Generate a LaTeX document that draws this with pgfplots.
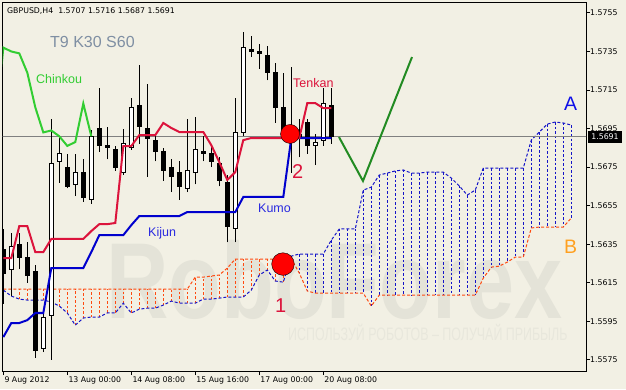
\documentclass[border=0pt]{standalone}
\usepackage{graphicx}
\usepackage{fontspec}
\setmainfont{DejaVu Sans}
\newfontfamily\arialfont{Liberation Sans}
\usepackage{pgfplots}
\usepackage{pgfplotstable}
\pgfplotsset{compat=1.18}

\definecolor{bg}{HTML}{F2F0E4}
\definecolor{tenkan}{HTML}{DC143C}
\definecolor{kijun}{HTML}{0000CD}
\definecolor{chinkou}{HTML}{32CD32}
\definecolor{spana}{HTML}{1414C8}
\definecolor{spanb}{HTML}{FF4A10}
\definecolor{vgreen}{HTML}{228B22}
\definecolor{wm}{HTML}{E4E3D8}
\definecolor{wm2}{HTML}{E8E7DC}
\definecolor{tnine}{HTML}{7F8FA3}
\definecolor{labblue}{HTML}{2A2AE0}
\definecolor{labA}{HTML}{1010E8}
\definecolor{labB}{HTML}{FFA020}

\pgfplotstableread{
i o h l c
0 1.5632 1.5643 1.5604 1.5620
1 1.5622 1.5641 1.5608 1.5634
2 1.5635 1.5641 1.5622 1.5628
3 1.5628 1.5636 1.5615 1.5619
4 1.5621 1.5624 1.5576 1.5580
5 1.5581 1.5602 1.5579 1.5597
6 1.5598 1.5700 1.5575 1.5677
7 1.5678 1.5691 1.5667 1.5682
8 1.5675 1.5682 1.5664 1.5665
9 1.5666 1.5682 1.5660 1.5672
10 1.5672 1.5679 1.5657 1.5659
11 1.5658 1.5694 1.5656 1.5691
12 1.5695 1.5716 1.5683 1.5686
13 1.5686 1.5696 1.5679 1.5685
14 1.5684 1.5686 1.5673 1.5675
15 1.5672 1.5695 1.5671 1.5687
16 1.5685 1.5711 1.5684 1.5706
17 1.5707 1.5728 1.5687 1.5696
18 1.5695 1.5718 1.5670 1.5690
19 1.5689 1.5692 1.5678 1.5683
20 1.5683 1.5685 1.5668 1.5673
21 1.5675 1.5679 1.5662 1.5670
22 1.5672 1.5678 1.5658 1.5665
23 1.5664 1.5700 1.5662 1.5673
24 1.5672 1.5701 1.5666 1.5684
25 1.5683 1.5691 1.5678 1.5682
26 1.5682 1.5686 1.5675 1.5678
27 1.5677 1.5680 1.5665 1.5668
28 1.5667 1.5671 1.5636 1.5644
29 1.5643 1.5711 1.5636 1.5693
30 1.5693 1.5745 1.5691 1.5737
31 1.5736 1.5743 1.5732 1.5735
32 1.5735 1.5739 1.5726 1.5734
33 1.5733 1.5738 1.5720 1.5724
34 1.5724 1.5729 1.5698 1.5706
35 1.5706 1.5724 1.5689 1.5693
36 1.5692 1.5727 1.5672 1.5694
37 1.5692 1.5700 1.5680 1.5691
38 1.5698 1.5700 1.5682 1.5686
39 1.5686 1.5692 1.5676 1.5688
40 1.5689 1.5716 1.5686 1.5708
41 1.5707 1.5716 1.5687 1.5691
}\candles

\pgfplotstableread{
i t k
0 1.56278 1.55868
1 1.56278 1.55941
2 1.56444 1.55941
3 1.56444 1.55956
4 1.56309 1.55993
5 1.56309 1.55993
6 1.56377 1.56226
7 1.56377 1.56226
8 1.56377 1.56226
9 1.56377 1.56226
10 1.56377 1.56226
11 1.56418 1.56309
12 1.56454 1.56397
13 1.56454 1.56397
14 1.56460 1.56397
15 1.56859 1.56397
16 1.56859 1.56449
17 1.56916 1.56496
18 1.56916 1.56496
19 1.56916 1.56496
20 1.56979 1.56496
21 1.56953 1.56496
22 1.56932 1.56496
23 1.56932 1.56517
24 1.56932 1.56517
25 1.56932 1.56517
26 1.56864 1.56517
27 1.56776 1.56517
28 1.56683 1.56517
29 1.56724 1.56517
30 1.56890 1.56595
31 1.56901 1.56595
32 1.56901 1.56595
33 1.56901 1.56595
34 1.56901 1.56595
35 1.56901 1.56595
36 1.56901 1.56901
37 1.56901 1.56901
38 1.57082 1.56901
39 1.57082 1.56901
40 1.57056 1.56901
41 1.57056 1.56901
}\tk

\pgfplotstableread{
i a b
0 1.56112 1.56117
1 1.56081 1.56117
2 1.56065 1.56117
3 1.56060 1.56117
4 1.56060 1.56117
5 1.56060 1.56117
6 1.56050 1.56117
7 1.56029 1.56117
8 1.55993 1.56117
9 1.55930 1.56117
10 1.55967 1.56117
11 1.55972 1.56117
12 1.55972 1.56117
13 1.55993 1.56117
14 1.55993 1.56117
15 1.56044 1.56117
16 1.55993 1.56117
17 1.56013 1.56117
18 1.56018 1.56117
19 1.56018 1.56117
20 1.56034 1.56117
21 1.56055 1.56117
22 1.56044 1.56117
23 1.56044 1.56117
24 1.56044 1.56179
25 1.56065 1.56179
26 1.56065 1.56185
27 1.56070 1.56190
28 1.56076 1.56226
29 1.56076 1.56273
30 1.56076 1.56273
31 1.56112 1.56273
32 1.56190 1.56273
33 1.56216 1.56273
34 1.56159 1.56273
35 1.56153 1.56273
36 1.56288 1.56273
37 1.56299 1.56200
38 1.56299 1.56107
39 1.56299 1.56096
40 1.56299 1.56096
41 1.56371 1.56096
42 1.56429 1.56096
43 1.56429 1.56096
44 1.56429 1.56096
45 1.56631 1.56096
46 1.56646 1.56029
47 1.56709 1.56086
48 1.56719 1.56086
49 1.56730 1.56086
50 1.56735 1.56086
51 1.56719 1.56086
52 1.56719 1.56086
53 1.56724 1.56086
54 1.56724 1.56086
55 1.56724 1.56086
56 1.56693 1.56086
57 1.56652 1.56086
58 1.56605 1.56086
59 1.56631 1.56086
60 1.56745 1.56174
61 1.56745 1.56231
62 1.56745 1.56236
63 1.56745 1.56257
64 1.56745 1.56283
65 1.56745 1.56283
66 1.56890 1.56434
67 1.56932 1.56439
68 1.56973 1.56439
69 1.56984 1.56439
70 1.56979 1.56439
71 1.56968 1.56486
}\kumo

\begin{document}
\begin{tikzpicture}
\useasboundingbox (0,0) rectangle (626pt,-389pt);
\fill[bg] (0,0) rectangle (626pt,-389pt);
\begin{scope}[x=1pt,y=-1pt]
\node[anchor=base west, inner sep=0pt, text=wm, font=\arialfont\bfseries\fontsize{108}{108}\selectfont] at (106,318) {\scalebox{0.8}[1]{RoboForex}};
\node[anchor=base west, inner sep=0pt, text=wm2, font=\arialfont\fontsize{18}{18}\selectfont] at (288,340) {\scalebox{0.69}[1]{ИСПОЛЬЗУЙ РОБОТОВ – ПОЛУЧАЙ ПРИБЫЛЬ}};
\end{scope}
\begin{axis}[
  at={(2.7pt,-2.7pt)}, anchor=north west,
  scale only axis, width=583.3pt, height=368.3pt,
  xmin=-0.075, xmax=72.84, ymin=1.55692, ymax=1.57603,
  axis line style={black, line width=1pt},
  xtick={0,8,16,24,32,40},
  xticklabels={9 Aug 2012,13 Aug 00:00,14 Aug 08:00,15 Aug 16:00,17 Aug 00:00,20 Aug 08:00},
  ytick={1.5575,1.5595,1.5615,1.5635,1.5655,1.5675,1.5695,1.5715,1.5735,1.5755},
  yticklabels={1.5575,1.5595,1.5615,1.5635,1.5655,1.5675,1.5695,1.5715,1.5735,1.5755},
  scaled y ticks=false,
  xtick pos=bottom, ytick pos=right, yticklabel pos=right,
  tick align=outside, major tick length=4pt,
  tick style={black, line width=1pt},
  ticklabel style={font=\fontsize{7.8}{9}\selectfont, inner sep=0pt},
  xticklabel style={anchor=north west, xshift=1pt, yshift=-1.5pt},
  yticklabel style={anchor=west},
  clip=true,
]
% cloud hatching
\pgfplotsinvokeforeach{0,...,71}{%
  \pgfplotstablegetelem{#1}{a}\of\kumo \let\kA\pgfplotsretval
  \pgfplotstablegetelem{#1}{b}\of\kumo \let\kB\pgfplotsretval
  \ifdim\kA pt<\kB pt \def\hc{spanb}\else\def\hc{spana}\fi
  \edef\next{\noexpand\addplot[\hc, line width=1pt, dash pattern=on 2.5pt off 2pt, forget plot] coordinates {(#1,\kA) (#1,\kB)};}\next
}
\addplot[spana, line width=1pt, dash pattern=on 3pt off 2pt, forget plot] table[x=i,y=a]{\kumo};
\addplot[spanb, line width=1pt, dash pattern=on 3pt off 2pt, forget plot] table[x=i,y=b]{\kumo};
% price line
\addplot[gray, line width=1pt, forget plot] coordinates {(-1,1.5691) (80,1.5691)};
% candles
\pgfplotsinvokeforeach{0,...,41}{%
  \pgfplotstablegetelem{#1}{o}\of\candles \let\cO\pgfplotsretval
  \pgfplotstablegetelem{#1}{h}\of\candles \let\cH\pgfplotsretval
  \pgfplotstablegetelem{#1}{l}\of\candles \let\cL\pgfplotsretval
  \pgfplotstablegetelem{#1}{c}\of\candles \let\cC\pgfplotsretval
  \pgfmathsetmacro\xa{#1-0.26}
  \pgfmathsetmacro\xb{#1+0.26}
  \ifdim\cC pt<\cO pt \def\bodyfill{black}\else\def\bodyfill{white}\fi
  \edef\next{%
    \noexpand\addplot[black, line width=1pt, forget plot] coordinates {(#1,\cL) (#1,\cH)};%
    \noexpand\addplot[draw=black, fill=\bodyfill, line width=1pt, forget plot] coordinates {(\xa,\cO) (\xb,\cO) (\xb,\cC) (\xa,\cC) (\xa,\cO)};%
  }\next
}
% indicator lines
\addplot[kijun, line width=2pt, forget plot] table[x=i,y=k]{\tk};
\addplot[tenkan, line width=2pt, forget plot] table[x=i,y=t]{\tk};
\addplot[chinkou, line width=2pt, forget plot] table[x expr=\thisrow{i}-30, y=c]{\candles};
% forecast
\addplot[vgreen, line width=2pt, forget plot] coordinates {(41.96,1.56906) (44.96,1.56678) (51.09,1.57321)};
% marked points
\addplot[only marks, mark=*, mark size=9.5pt, mark options={fill=red, draw=none}, forget plot] coordinates {(35.84,1.56922)};
\addplot[only marks, mark=*, mark size=11.3pt, mark options={fill=red, draw=none}, forget plot] coordinates {(34.96,1.56247)};
\end{axis}
\begin{scope}[x=1pt,y=-1pt]
\node[anchor=base west, inner sep=0pt, font=\fontsize{7.8}{9}\selectfont] at (7,13) {GBPUSD,H4\hspace{5pt}1.5707 1.5716 1.5687 1.5691};
\node[anchor=base west, inner sep=0pt, text=tnine, font=\arialfont\fontsize{16}{18}\selectfont] at (50,47) {T9 K30 S60};
\node[anchor=base west, inner sep=0pt, text=chinkou, font=\arialfont\fontsize{12.5}{14}\selectfont] at (36,83) {Chinkou};
\node[anchor=base west, inner sep=0pt, text=tenkan, font=\arialfont\fontsize{12.5}{14}\selectfont] at (293,87) {Tenkan};
\node[anchor=base west, inner sep=0pt, text=labblue, font=\arialfont\fontsize{12.5}{14}\selectfont] at (148,236) {Kijun};
\node[anchor=base west, inner sep=0pt, text=labblue, font=\arialfont\fontsize{12.5}{14}\selectfont] at (258,212) {Kumo};
\node[anchor=base west, inner sep=0pt, text=labA, font=\arialfont\fontsize{19.5}{20}\selectfont] at (564,110) {A};
\node[anchor=base west, inner sep=0pt, text=labB, font=\arialfont\fontsize{19.5}{20}\selectfont] at (564,253) {B};
\node[anchor=base west, inner sep=0pt, text=tenkan, font=\arialfont\fontsize{20}{20}\selectfont] at (292,178) {2};
\node[anchor=base west, inner sep=0pt, text=tenkan, font=\arialfont\fontsize{20}{20}\selectfont] at (275,312) {1};
\node[fill=black, text=white, inner sep=0pt, minimum width=34pt, minimum height=12pt, font=\fontsize{7.8}{9}\selectfont] at (605,137) {1.5691};
\end{scope}
\end{tikzpicture}
\end{document}
